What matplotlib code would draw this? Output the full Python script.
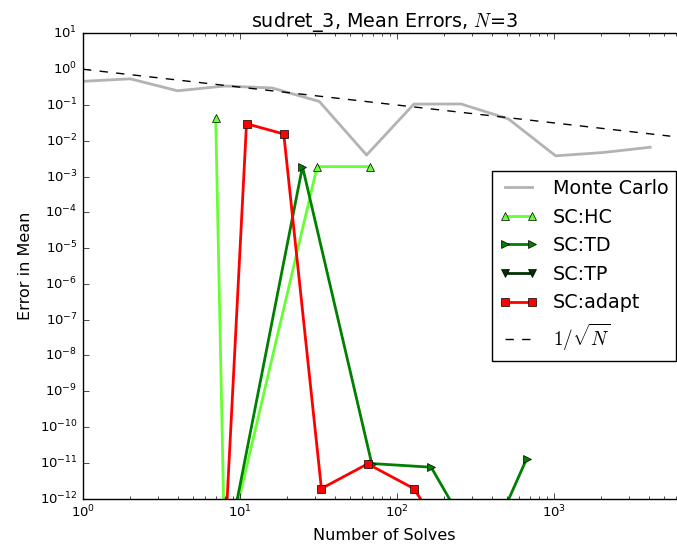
import numpy as np
import matplotlib
matplotlib.use("Agg")
import matplotlib.pyplot as plt

# Monte Carlo reference
mc_solves = [1, 2, 4, 8, 16, 32, 64, 128, 256, 512, 1024, 2048, 4096]
mc_err = [0.46, 0.54, 0.25, 0.34, 0.30, 0.126, 0.0040, 0.106, 0.107, 0.041, 0.0038, 0.0047, 0.0066]

# stochastic collocation variants
hc_solves = [7, 8, 31, 67]
hc_err = [0.044, 2e-14, 1.9e-3, 1.9e-3]

td_solves = [7, 25, 69, 165, 353, 670]
td_err = [8e-16, 1.9e-3, 9.5e-12, 7.5e-12, 2.3e-14, 1.3e-11]

tp_solves = [27, 125, 343]
tp_err = [1e-15, 5e-16, 2e-16]

adapt_solves = [7, 11, 19, 33, 65, 128, 390]
adapt_err = [6e-19, 0.030, 0.0155, 1.9e-12, 9.3e-12, 1.9e-12, 1e-15]

plt.style.use("classic")
plt.rcParams["mathtext.fontset"] = "cm"
plt.rcParams["font.family"] = "DejaVu Sans"

fig = plt.figure(figsize=(6.77, 5.48), dpi=100, facecolor="white")
ax = fig.add_axes([0.1226, 0.0903, 0.8907, 0.8486])

ax.loglog(mc_solves, mc_err, "-", color="#b3b3b3", lw=2, label="Monte Carlo")
ax.loglog(hc_solves, hc_err, "^-", color="#66ff33", lw=2, ms=6, mec="k", mew=0.5, label="SC:HC")
ax.loglog(td_solves, td_err, ">-", color="#008000", lw=2, ms=6, mec="k", mew=0.5, label="SC:TD")
ax.loglog(tp_solves, tp_err, "v-", color="#003300", lw=2, ms=6, mec="k", mew=0.5, label="SC:TP")
ax.loglog(adapt_solves, adapt_err, "s-", color="#ff0000", lw=2, ms=6, mec="k", mew=0.5, label="SC:adapt")

n = np.logspace(0, np.log10(5500), 50)
ax.loglog(n, 1 / np.sqrt(n), "k--", lw=1, label=r"$1/\sqrt{N}$")

ax.set_xlim(1, 6930)
ax.set_ylim(1e-12, 10)
ax.tick_params(labelsize=9.5)
ax.set_xlabel("Number of Solves", fontsize=11.5)
ax.set_ylabel("Error in Mean", fontsize=11.5)
ax.set_title(r"sudret_3, Mean Errors, $N$=3", fontsize=13.8)
ax.legend(loc="center right", fontsize=13.8, numpoints=2)

fig.savefig("out.png", dpi=100, facecolor="white")
